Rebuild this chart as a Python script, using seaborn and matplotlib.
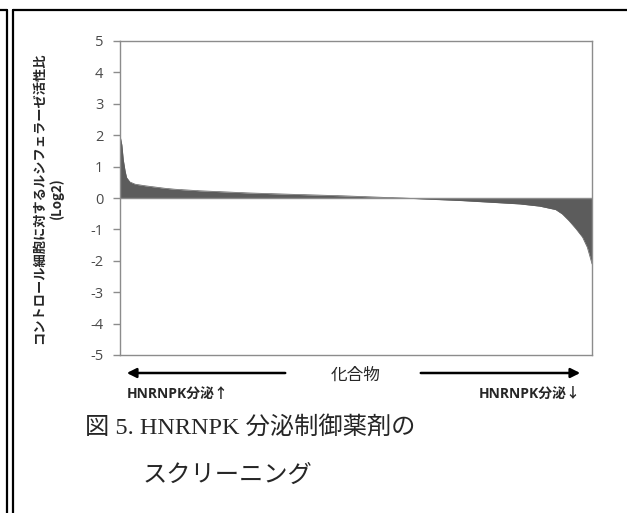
import matplotlib
matplotlib.use('Agg')
import matplotlib.pyplot as plt
import seaborn as sns
from matplotlib.lines import Line2D

# compound rank (sorted) and log2 luciferase ratio
rank = [0, 4, 7, 11, 14, 21, 32, 53, 95, 116, 169, 275, 360, 472, 560, 600,
        640, 720, 790, 847, 889, 923, 937, 951, 966, 980, 990, 995, 1000]
log2_ratio = [2.0, 1.69, 1.22, 0.85, 0.65, 0.51, 0.44, 0.39, 0.31, 0.28, 0.23,
              0.16, 0.12, 0.07, 0.02, 0.0, -0.03, -0.08, -0.14, -0.19, -0.26,
              -0.37, -0.51, -0.72, -0.98, -1.25, -1.57, -1.83, -2.1]
y_ticks = list(range(-5, 6))

ylabel = 'コントロール細胞に対するルシフェラーゼ活性比\n(Log2)'
xlabel = '化合物'
left_note = 'HNRNPK分泌↑'
right_note = 'HNRNPK分泌↓'
caption1 = '図 5. HNRNPK 分泌制御薬剤の'
caption2 = 'スクリーニング'

sns.set_style('white')
plt.rcParams['font.family'] = ['Open Sans', 'Noto Sans CJK JP', 'DejaVu Sans']
plt.rcParams['axes.unicode_minus'] = False

fig = plt.figure(figsize=(6.27, 5.13), dpi=100)
ax = fig.add_axes([120 / 627, 1 - 355 / 513, 472 / 627, 314 / 513])

fill_col = '#5c5c5c'
axis_col = '#8c8c8c'
sns.lineplot(x=rank, y=log2_ratio, ax=ax, color=fill_col, lw=0.5)
ax.fill_between(rank, log2_ratio, 0, color=fill_col, lw=0)
ax.axhline(0, color=axis_col, lw=1, zorder=3)

ax.set_xlim(0, 1000)
ax.set_ylim(-5, 5)
ax.set_yticks(y_ticks)
ax.set_xticks([])
ax.tick_params(axis='y', left=True, length=5, width=1, color=axis_col,
               labelsize=10.5, labelcolor='#4a4a4a', pad=7)
for s in ax.spines.values():
    s.set_color(axis_col)
    s.set_linewidth(1)

# y label
fig.text(48 / 627, 1 - 198 / 513, ylabel, rotation=90, ha='center', va='center',
         multialignment='center', fontsize=9.5, fontweight='bold',
         family=['Noto Sans CJK JP', 'DejaVu Sans'], linespacing=1.25)

# compound axis with arrows
fig.text(356 / 627, 1 - 375 / 513, xlabel, ha='center', va='center', fontsize=12,
         family=['Noto Sans CJK JP'])
arrow_kw = dict(arrowstyle='-|>', lw=1.8, color='black', mutation_scale=14)
fig.add_artist(matplotlib.patches.FancyArrowPatch(
    (288 / 627, 1 - 373 / 513), (124 / 627, 1 - 373 / 513),
    transform=fig.transFigure, **arrow_kw))
fig.add_artist(matplotlib.patches.FancyArrowPatch(
    (418 / 627, 1 - 373 / 513), (583 / 627, 1 - 373 / 513),
    transform=fig.transFigure, **arrow_kw))

fig.text(127 / 627, 1 - 394 / 513, left_note, ha='left', va='center',
         fontsize=10, fontweight='bold')
fig.text(581 / 627, 1 - 394 / 513, right_note, ha='right', va='center',
         fontsize=10, fontweight='bold')

# caption
cap_fam = ['Liberation Serif', 'Noto Sans CJK JP']
fig.text(85 / 627, 1 - 427 / 513, caption1, ha='left', va='center',
         fontsize=17.5, family=cap_fam)
fig.text(143 / 627, 1 - 476 / 513, caption2, ha='left', va='center',
         fontsize=17.5, family=cap_fam)

# frame lines of the page
for x in (6.5 / 627, 13 / 627):
    fig.add_artist(Line2D([x, x], [0, 1 - 9.5 / 513], transform=fig.transFigure,
                          color='black', lw=1.6))
fig.add_artist(Line2D([0, 6.5 / 627], [1 - 10 / 513, 1 - 10 / 513],
                      transform=fig.transFigure, color='black', lw=1.6))
fig.add_artist(Line2D([13 / 627, 1], [1 - 10 / 513, 1 - 10 / 513],
                      transform=fig.transFigure, color='black', lw=1.6))

fig.savefig('out.png', dpi=100)
